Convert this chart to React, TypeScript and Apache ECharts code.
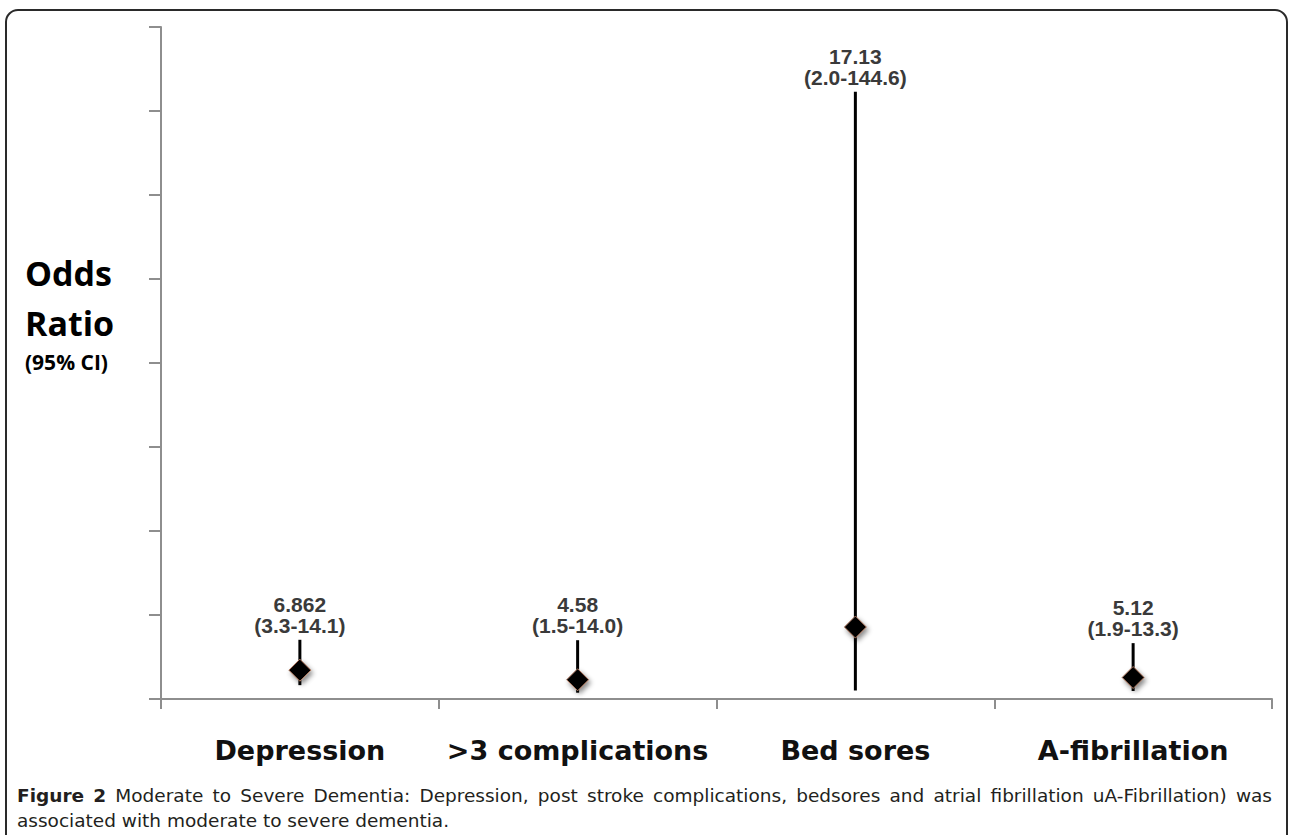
import React, { useEffect, useRef } from "react";
import * as echarts from "echarts";

const categories = ["Depression", ">3 complications", "Bed sores", "A-fibrillation"];
const oddsRatios = [6.862, 4.58, 17.13, 5.12];
const oddsLabels = ["6.862", "4.58", "17.13", "5.12"];
const ciLower = [3.3, 1.5, 2.0, 1.9];
const ciUpper = [14.1, 14.0, 144.6, 13.3];
const yMin = 0;
const yMax = 160;
const yInterval = 20;
const yTitle = ["Odds", "Ratio", "(95% CI)"];
const captionBold = "Figure 2";
const captionLine1 =
  "Moderate to Severe Dementia: Depression, post stroke complications, bedsores and atrial fibrillation uA-Fibrillation) was";
const captionLine2 = "associated with moderate to severe dementia.";

const CAPTION_FONT = "DejaVu Sans";
const CAPTION_SIZE = 18.5;
const CAPTION_LH = 21;
const CAPTION_COLOR = "#231f20";

function buildCaption(): any[] {
  const ctx = document.createElement("canvas").getContext("2d") as CanvasRenderingContext2D;
  const words = [
    ...captionBold.split(" ").map((w) => ({ w, bold: true })),
    ...captionLine1.split(" ").map((w) => ({ w, bold: false })),
  ];
  const widths = words.map(({ w, bold }) => {
    ctx.font = (bold ? "bold " : "") + CAPTION_SIZE + "px \"" + CAPTION_FONT + "\"";
    return ctx.measureText(w).width;
  });
  const left = 17;
  const right = 1272;
  const total = widths.reduce((a, b) => a + b, 0);
  const gap = (right - left - total) / (words.length - 1);
  const els: any[] = [];
  let x = left;
  words.forEach((wd, i) => {
    els.push({
      type: "text",
      x,
      y: 795,
      style: {
        text: wd.w,
        fontFamily: CAPTION_FONT,
        fontWeight: wd.bold ? "bold" : "normal",
        fontSize: CAPTION_SIZE,
        lineHeight: CAPTION_LH,
        fill: CAPTION_COLOR,
        align: "left",
        verticalAlign: "middle",
      },
    });
    x += widths[i] + gap;
  });
  els.push({
    type: "text",
    x: left,
    y: 820,
    style: {
      text: captionLine2,
      fontFamily: CAPTION_FONT,
      fontSize: CAPTION_SIZE,
      lineHeight: CAPTION_LH,
      fill: CAPTION_COLOR,
      align: "left",
      verticalAlign: "middle",
    },
  });
  return els;
}

export default function App() {
  const ref = useRef<HTMLDivElement>(null);
  useEffect(() => {
    if (!ref.current) return;
    const chart = echarts.init(ref.current, null, { renderer: "svg" });
    const errData = categories.map((_, i) => [i, ciLower[i], ciUpper[i]]);
    chart.setOption({
      animation: false,
      backgroundColor: "#fff",
      grid: { left: 161, right: 17, top: 27, bottom: 136 },
      xAxis: {
        type: "category",
        data: categories,
        boundaryGap: true,
        axisLine: { lineStyle: { color: "#8e8e8e", width: 2 } },
        axisTick: { show: true, length: 10, lineStyle: { color: "#8e8e8e", width: 2 } },
        axisLabel: {
          margin: 36,
          fontFamily: "DejaVu Sans",
          fontWeight: "bold",
          fontSize: 27,
          lineHeight: 30,
          color: "#111",
          interval: 0,
        },
        splitLine: { show: false },
      },
      yAxis: {
        type: "value",
        min: yMin,
        max: yMax,
        interval: yInterval,
        axisLine: { show: true, lineStyle: { color: "#8e8e8e", width: 2 } },
        axisTick: { show: true, length: 12, lineStyle: { color: "#8e8e8e", width: 2 } },
        axisLabel: { show: false },
        splitLine: { show: false },
      },
      graphic: [
        {
          type: "rect",
          shape: { x: 6, y: 10, width: 1281, height: 900, r: 12 },
          style: { fill: "none", stroke: "#2a2a2a", lineWidth: 2 },
          silent: true,
          z: -1,
        },
        {
          type: "text",
          x: 25,
          y: 273,
          style: {
            text: yTitle[0],
            fontFamily: "Open Sans",
            fontWeight: "bold",
            fontSize: 34,
            lineHeight: 38,
            fill: "#000",
            align: "left",
            verticalAlign: "middle",
          },
        },
        {
          type: "text",
          x: 25,
          y: 323,
          style: {
            text: yTitle[1],
            fontFamily: "Open Sans",
            fontWeight: "bold",
            fontSize: 34,
            lineHeight: 38,
            fill: "#000",
            align: "left",
            verticalAlign: "middle",
          },
        },
        {
          type: "text",
          x: 25,
          y: 362,
          style: {
            text: yTitle[2],
            fontFamily: "Open Sans",
            fontWeight: "bold",
            fontSize: 21,
            lineHeight: 24,
            fill: "#000",
            align: "left",
            verticalAlign: "middle",
          },
        },
        ...buildCaption(),
      ],
      series: [
        {
          type: "custom",
          z: 2,
          data: errData,
          renderItem: (params: any, api: any) => {
            const i = api.value(0);
            const lo = api.coord([i, api.value(1)]);
            const hi = api.coord([i, api.value(2)]);
            return {
              type: "group",
              children: [
                {
                  type: "line",
                  shape: { x1: lo[0], y1: lo[1], x2: hi[0], y2: hi[1] },
                  style: { stroke: "#000", lineWidth: 3 },
                },
                {
                  type: "text",
                  x: hi[0],
                  y: hi[1] - 4,
                  style: {
                    text:
                      oddsLabels[i] +
                      "\n(" +
                      ciLower[i].toFixed(1) +
                      "-" +
                      ciUpper[i].toFixed(1) +
                      ")",
                    fontFamily: "Liberation Sans",
                    fontWeight: "bold",
                    fontSize: 21,
                    lineHeight: 21,
                    fill: "#3a3a3a",
                    align: "center",
                    verticalAlign: "bottom",
                  },
                },
              ],
            };
          },
        },
        {
          type: "scatter",
          z: 3,
          data: oddsRatios,
          symbol: "diamond",
          symbolSize: 22,
          itemStyle: {
            color: "#000",
            borderColor: "#b07a60",
            borderWidth: 1,
            shadowBlur: 5,
            shadowColor: "rgba(0,0,0,0.45)",
            shadowOffsetX: 2,
            shadowOffsetY: 3,
            opacity: 1,
          },
        },
      ],
    });
    return () => chart.dispose();
  }, []);
  return (
    <div
      ref={ref}
      style={{ position: "fixed", left: 0, top: 0, width: 1289, height: 835, background: "#fff" }}
    />
  );
}
